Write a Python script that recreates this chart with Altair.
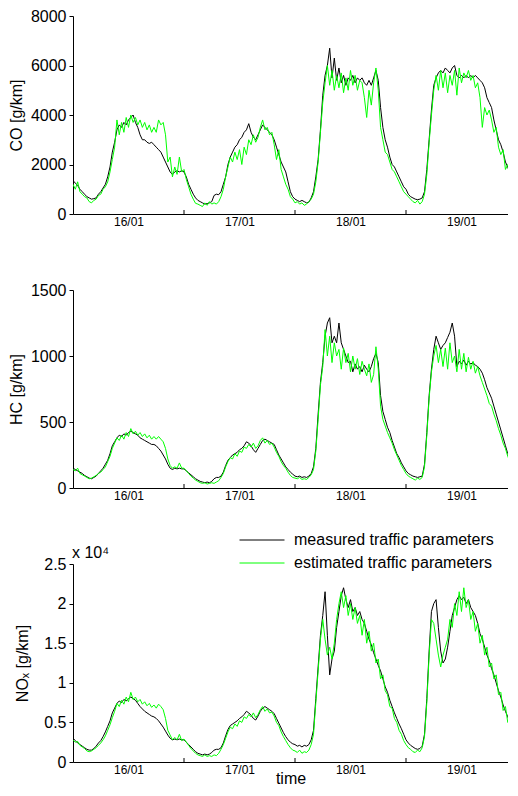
import altair as alt
import pandas as pd

# ---------------- data ----------------
day_labels = ["16/01", "17/01", "18/01", "19/01"]
label_hours = [12, 36, 60, 84]
tick_hours = [24, 48, 72]
series_names = ["measured traffic parameters", "estimated traffic parameters"]
series_colors = ["#000000", "#00ff00"]
nox_multiplier_text = "x 10⁴"

hours = [i * 0.5 for i in range(193)]  # half-hour sampling grid, 16/01 00:00 .. 20/01 00:00

co_measured = [
    1350, 1250, 1150, 1000, 900, 800, 700, 650, 600, 620, 650, 800, 900, 1050, 1200, 1500, 1900, 2500, 2900, 3400, 3600, 3500, 3700, 3600,
    3800, 3900, 4000, 3700, 3500, 3200, 3000, 3000, 2900, 2850, 2900, 2800, 2700, 2600, 2500, 2300, 2100, 1900, 1700, 1600, 1700, 1750, 1700, 1750,
    1700, 1500, 1200, 1000, 800, 650, 550, 500, 450, 400, 420, 450, 500, 750, 800, 780, 900, 1200, 1500, 2000, 2300, 2500, 2700, 2800,
    3000, 3100, 3300, 3400, 3650, 3300, 3100, 3000, 3200, 3400, 3600, 3500, 3400, 3300, 3200, 3000, 2700, 2400, 2100, 1900, 1700, 1300, 900, 700,
    600, 550, 500, 550, 500, 450, 480, 650, 900, 1500, 2200, 3400, 4800, 5600, 6000, 6700, 5500, 6300, 5400, 5900, 5300, 5600, 5200, 5500,
    5400, 5600, 5300, 5500, 5400, 5500, 5300, 5200, 5400, 5200, 5500, 5800, 5400, 4300, 3500, 3000, 2700, 2300, 2000, 1900, 1700, 1500, 1300, 1100,
    1000, 800, 700, 650, 600, 580, 600, 650, 900, 1800, 3000, 4200, 5200, 5500, 5700, 5800, 5700, 5900, 5800, 5700, 5900, 6000, 5600, 5500,
    5600, 5500, 5600, 5500, 5600, 5500, 5600, 5500, 5400, 5300, 5100, 4700, 4500, 4300, 3800, 3400, 3000, 2800, 2500, 2100, 1900, 1600, 1400, 1200,
    1000,
]
co_estimated = [
    1200, 1000, 1300, 900, 800, 700, 650, 500, 450, 550, 600, 750, 800, 1000, 1100, 1300, 1700, 2200, 2700, 3800, 3200, 3700, 3300, 3900,
    3500, 4000, 3700, 3900, 3600, 3800, 3500, 3700, 3400, 3600, 3300, 3500, 3300, 3800, 3600, 3700, 3200, 2100, 2300, 1500, 1900, 1600, 2300, 1700,
    1800, 1400, 1100, 800, 600, 430, 400, 350, 300, 450, 350, 500, 400, 450, 400, 500, 700, 1000, 1500, 1900, 2300, 2100, 2500, 2200,
    2600, 2000, 2700, 2400, 3000, 2800, 3200, 2900, 3100, 3500, 3800, 3400, 3500, 3200, 3300, 2800, 2200, 2600, 1800, 1500, 1200, 1000, 700, 600,
    450, 500, 400, 450, 350, 400, 500, 600, 800, 1300, 2100, 3300, 4500, 5300, 6000, 5200, 5800, 5000, 5600, 5100, 5700, 4900, 5500, 5000,
    5800, 5200, 5600, 5000, 5400, 5300, 4700, 3900, 5000, 4400, 5300, 5900, 5000, 3500, 3000, 2500, 2400, 2100, 1800, 1700, 1500, 1300, 1100, 900,
    800, 700, 600, 500, 450, 550, 400, 500, 800, 1600, 2900, 4000, 5000, 5600, 5000, 5800, 5100, 5700, 4900, 5600, 5200, 5800, 4800, 5900,
    5300, 5700, 5500, 5800, 5400, 5600, 5100, 5300, 4700, 3500, 4300, 4000, 4200, 3800, 3300, 3500, 2700, 2400, 2600, 1800, 2000, 1500, 1300, 1200,
    1000,
]
hc_measured = [
    150, 140, 130, 120, 110, 95, 85, 75, 70, 80, 90, 110, 130, 150, 180, 210, 260, 320, 350, 380, 400, 390, 410, 400,
    420, 430, 420, 410, 400, 380, 370, 360, 350, 340, 330, 330, 320, 300, 280, 250, 220, 180, 150, 140, 150, 145, 150, 145,
    145, 130, 115, 100, 85, 70, 60, 50, 45, 40, 45, 40, 50, 70, 80, 80, 90, 120, 170, 210, 230, 250, 260, 270,
    290, 300, 320, 350, 340, 320, 290, 270, 300, 330, 360, 370, 360, 350, 340, 330, 290, 250, 220, 190, 160, 140, 120, 105,
    90, 85, 90, 80, 85, 80, 90, 110, 160, 300, 560, 800, 950, 1150, 1250, 1290, 1100, 1150, 1100, 1250, 1100, 1050, 1000, 950,
    960, 880, 940, 900, 920, 880, 930, 900, 880, 920, 980, 1020, 950, 700, 580, 520, 460, 420, 360, 310, 260, 230, 190, 160,
    130, 110, 100, 90, 85, 80, 85, 90, 180, 420, 700, 900, 1050, 1150, 1100, 1050, 1080, 1100, 1140, 1180, 1250, 1150, 920, 960,
    940, 970, 930, 960, 940, 950, 930, 920, 900, 870, 820, 760, 720, 680, 620, 560, 500, 440, 380, 320, 260, 220, 190, 165,
    150,
]
hc_estimated = [
    140, 130, 150, 110, 100, 90, 80, 70, 75, 85, 95, 110, 120, 140, 160, 200, 240, 300, 340, 380, 360, 400, 370, 420,
    390, 450, 410, 430, 400, 420, 390, 410, 380, 400, 370, 390, 370, 390, 370, 350, 300, 220, 170, 150, 160, 150, 190, 150,
    150, 130, 110, 90, 75, 60, 50, 40, 35, 40, 30, 35, 40, 35, 45, 55, 80, 110, 160, 200, 230, 220, 260, 240,
    280, 270, 310, 300, 330, 310, 340, 300, 320, 360, 380, 340, 360, 330, 340, 310, 270, 240, 200, 170, 150, 120, 95, 80,
    75, 70, 80, 65, 70, 65, 80, 100, 140, 280, 520, 780, 920, 1200, 1000, 1150, 950, 1100, 1000, 1050, 900, 1060, 950, 1020,
    880, 1000, 900, 980, 860, 960, 900, 850, 940, 800, 860, 1070, 900, 620, 520, 470, 420, 380, 340, 290, 250, 210, 170, 140,
    110, 90, 80, 70, 60, 75, 65, 80, 160, 400, 680, 880, 1000, 1080, 950, 1050, 920, 1060, 900, 1100, 950, 1000, 880, 1050,
    900, 1020, 880, 990, 900, 960, 870, 920, 850, 800, 750, 700, 640, 620, 560, 510, 450, 400, 340, 300, 240, 200, 170, 150,
    140,
]
# NOx in units of 10^4 g/km
nox_measured = [
    0.30, 0.27, 0.24, 0.22, 0.20, 0.18, 0.16, 0.15, 0.15, 0.17, 0.20, 0.24, 0.27, 0.32, 0.38, 0.45, 0.52, 0.62, 0.68, 0.74, 0.77, 0.75, 0.79, 0.77,
    0.80, 0.82, 0.80, 0.78, 0.74, 0.70, 0.67, 0.64, 0.62, 0.60, 0.58, 0.57, 0.55, 0.52, 0.48, 0.44, 0.39, 0.34, 0.30, 0.28, 0.29, 0.28, 0.29, 0.28,
    0.28, 0.25, 0.22, 0.19, 0.16, 0.13, 0.11, 0.10, 0.09, 0.10, 0.09, 0.10, 0.12, 0.15, 0.16, 0.16, 0.18, 0.24, 0.33, 0.41, 0.46, 0.48, 0.50, 0.52,
    0.55, 0.57, 0.60, 0.64, 0.62, 0.59, 0.55, 0.53, 0.58, 0.64, 0.68, 0.70, 0.68, 0.66, 0.64, 0.61, 0.55, 0.49, 0.43, 0.37, 0.32, 0.28, 0.25, 0.23,
    0.22, 0.20, 0.21, 0.19, 0.21, 0.20, 0.22, 0.28, 0.40, 0.80, 1.20, 1.60, 1.85, 2.15, 1.60, 1.10, 1.30, 1.40, 1.70, 1.90, 2.10, 2.20, 2.05, 1.95,
    2.05, 1.90, 1.95, 1.85, 1.90, 1.80, 1.75, 1.65, 1.55, 1.48, 1.38, 1.30, 1.22, 1.15, 1.05, 0.95, 0.88, 0.78, 0.70, 0.62, 0.55, 0.48, 0.42, 0.35,
    0.28, 0.24, 0.21, 0.19, 0.17, 0.16, 0.17, 0.20, 0.35, 0.80, 1.40, 1.90, 2.00, 2.05, 1.70, 1.40, 1.25, 1.30, 1.45, 1.65, 1.85, 1.95, 2.05, 2.10,
    2.05, 2.08, 2.00, 2.05, 1.95, 1.90, 1.85, 1.75, 1.62, 1.55, 1.45, 1.35, 1.28, 1.18, 1.10, 1.00, 0.90, 0.82, 0.72, 0.64, 0.57, 0.50, 0.44, 0.38,
    0.34,
]
nox_estimated = [
    0.28, 0.25, 0.26, 0.21, 0.19, 0.17, 0.14, 0.13, 0.14, 0.16, 0.18, 0.21, 0.24, 0.28, 0.33, 0.40, 0.47, 0.56, 0.64, 0.74, 0.70, 0.78, 0.73, 0.82,
    0.76, 0.88, 0.79, 0.82, 0.76, 0.79, 0.73, 0.76, 0.71, 0.74, 0.69, 0.72, 0.68, 0.73, 0.70, 0.66, 0.55, 0.40, 0.34, 0.28, 0.31, 0.28, 0.35, 0.27,
    0.29, 0.25, 0.21, 0.17, 0.14, 0.11, 0.09, 0.08, 0.07, 0.09, 0.07, 0.08, 0.07, 0.09, 0.08, 0.11, 0.16, 0.22, 0.30, 0.38, 0.44, 0.42, 0.48, 0.45,
    0.52, 0.50, 0.57, 0.55, 0.60, 0.57, 0.62, 0.56, 0.60, 0.66, 0.70, 0.64, 0.67, 0.62, 0.63, 0.58, 0.50, 0.46, 0.38, 0.32, 0.27, 0.22, 0.18, 0.15,
    0.14, 0.12, 0.15, 0.11, 0.13, 0.12, 0.15, 0.22, 0.35, 0.75, 1.15, 1.55, 1.80, 1.55, 1.35, 1.45, 1.30, 1.50, 1.80, 2.00, 2.15, 1.95, 2.10, 1.85,
    2.00, 1.80, 1.95, 1.75, 1.85, 1.60, 1.80, 1.50, 1.65, 1.40, 1.50, 1.25, 1.30, 1.05, 1.10, 0.90, 0.85, 0.70, 0.68, 0.55, 0.50, 0.40, 0.35, 0.27,
    0.22, 0.18, 0.16, 0.13, 0.12, 0.15, 0.13, 0.18, 0.32, 0.75, 1.35, 1.80, 1.75, 1.55, 1.35, 1.20, 1.35, 1.45, 1.55, 1.80, 1.70, 2.00, 1.85, 2.15,
    1.90, 2.20, 1.95, 2.05, 1.80, 1.90, 1.65, 1.75, 1.50, 1.60, 1.35, 1.45, 1.20, 1.25, 1.05, 1.10, 0.85, 0.88, 0.65, 0.70, 0.50, 0.55, 0.40, 0.33,
    0.30,
]

co_ticks = [0, 2000, 4000, 6000, 8000]
hc_ticks = [0, 500, 1000, 1500]
nox_ticks = [0, 0.5, 1, 1.5, 2, 2.5]

# ---------------- chart ----------------
FONT = "Liberation Sans"
W, H = 435, 198
PX_PER_HOUR = 444 / 96            # horizontal scale of the original figure
X_END = W / PX_PER_HOUR           # the original figure is cut at the right edge

xlabel_expr = "[" + ",".join("'%s'" % d for d in day_labels) + "][floor(datum.value / 24)]"


def panel(measured, estimated, ytitle, yticks, ymax, title_pad, time_title=False, legend=None, note=None):
    n = len(hours)
    df = pd.DataFrame({
        "t": hours + hours,
        "v": measured + estimated,
        "s": [series_names[0]] * n + [series_names[1]] * n,
    })
    xaxis = alt.Axis(values=label_hours, labelExpr=xlabel_expr, ticks=False, tickSize=0,
                     labelFontSize=12, labelPadding=2, titleFontSize=16, titlePadding=-5)
    xscale = alt.Scale(domain=[0, X_END], nice=False, zero=False)
    if time_title:
        x = alt.X("t:Q", scale=xscale, axis=xaxis, title="time")
    else:
        x = alt.X("t:Q", scale=xscale, axis=xaxis, title=None)
    y = alt.Y("v:Q", scale=alt.Scale(domain=[0, ymax], nice=False), title=ytitle,
              axis=alt.Axis(values=yticks, labelExpr="'' + datum.value", tickSize=4, labelPadding=3,
                            labelFontSize=16, titleFontSize=16, titlePadding=title_pad))
    cscale = alt.Scale(domain=series_names, range=series_colors)
    if legend is not None:
        color = alt.Color("s:N", scale=cscale, legend=legend)
    else:
        color = alt.Color("s:N", scale=cscale, legend=None)
    base = alt.Chart(df)
    black = base.transform_filter(alt.datum.s == series_names[0]).mark_line(strokeWidth=1, clip=True).encode(
        x=x, y=y, color=color)
    green = base.transform_filter(alt.datum.s == series_names[1]).mark_line(strokeWidth=1, clip=True).encode(
        x=x, y=y, color=color)
    ticks = alt.Chart(pd.DataFrame({"t": tick_hours})).mark_rule(color="black", strokeWidth=1).encode(
        x=x, y=alt.value(H), y2=alt.value(H - 4))
    layers = [black, green, ticks]
    if note is not None:
        txt = alt.Chart(pd.DataFrame({"t": [0], "v": [ymax]})).mark_text(
            align="left", baseline="alphabetic", dx=-1, dy=-6, fontSize=16, font=FONT, color="black"
        ).encode(x=x, y=y, text=alt.value(note))
        layers.append(txt)
    return alt.layer(*layers).properties(width=W, height=H)


legend = alt.Legend(orient="none", legendX=166, legendY=-32, title=None, symbolType="stroke",
                    symbolSize=2025, symbolStrokeWidth=1, labelFontSize=16, labelFont=FONT,
                    labelColor="black", labelOffset=9, rowPadding=7, clipHeight=16, padding=0,
                    labelLimit=400)

p1 = panel(co_measured, co_estimated, "CO [g/km]", co_ticks, 8000, 6)
p2 = panel(hc_measured, hc_estimated, "HC [g/km]", hc_ticks, 1500, 6)
p3 = panel(nox_measured, nox_estimated, "NOₓ [g/km]", nox_ticks, 2.5, 13, time_title=True, legend=legend,
           note=nox_multiplier_text)

chart = alt.vconcat(p1, p2, p3, spacing=76, bounds="flush").resolve_scale(color="independent").properties(
    padding={"left": 0, "top": 0, "right": 0, "bottom": 0}
).configure_view(stroke=None).configure_axis(
    domainColor="black", tickColor="black", labelColor="black", titleColor="black",
    labelFont=FONT, titleFont=FONT, grid=False, titleFontWeight="normal", domainWidth=1, tickWidth=1
)

chart.save("out.html", embed_options={"renderer": "svg", "actions": False})
